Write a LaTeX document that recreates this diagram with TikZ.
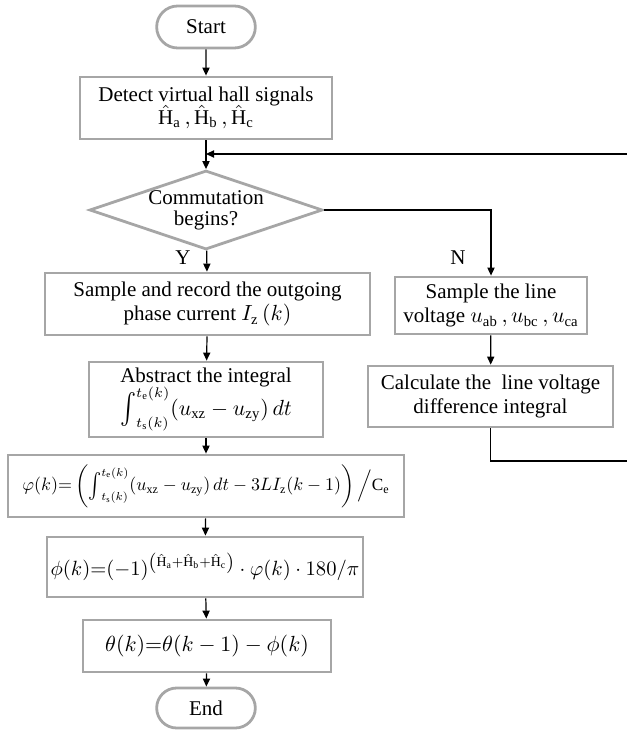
\documentclass[tikz,border=0pt]{standalone}
\usepackage{fontspec}
\setmainfont{Liberation Serif}
\usepackage{amsmath}
\usepackage{graphicx}
\usetikzlibrary{arrows.meta, positioning, shapes.geometric, shapes.misc}
\definecolor{boxgray}{RGB}{166,166,166}
\newcommand{\tallint}{\mathop{\vcenter{\hbox{\scalebox{1.1}[1.4]{$\int$}}}}\nolimits}

\begin{document}
\begin{tikzpicture}[
    x=0.5pt, y=-0.5pt,
    >={Triangle[length=4pt,width=3.6pt]},
    every node/.style={font=\fontsize{10.5}{12.4}\selectfont},
    flow/.style={draw=boxgray, line width=1.4pt, inner sep=1pt,
                 align=center},
    terminal/.style={draw=boxgray, line width=1.4pt, rounded rectangle,
                     minimum width=56pt, minimum height=21pt},
    decision/.style={draw=boxgray, line width=1.4pt, diamond, inner sep=0pt,
                     minimum width=116.5pt, minimum height=39.5pt},
    link/.style={->, line width=0.6pt}
  ]
  \useasboundingbox (0,0) rectangle (626,732);

  % Main column
  \node[terminal] (start) at (206,27) {Start};
  \node[flow, minimum width=126pt, minimum height=31pt] (detect) at (206,108)
    {Detect virtual hall signals\\[-1pt]
     $\hat{\mathrm{H}}_{\mathrm{a}}\,,\hat{\mathrm{H}}_{\mathrm{b}}\,,\hat{\mathrm{H}}_{\mathrm{c}}$};
  \node[decision] (decide) at (206,210) {};
  \node[align=center] (decideText) at (206,210) {Commutation\\[-2pt]begins?};
  \node[flow, minimum width=162.5pt, minimum height=31pt] (sample) at (207.5,304)
    {Sample and record the outgoing\\phase current $I_{\mathrm{z}}\left(k\right)$};
  \node[flow, minimum width=117pt, minimum height=37.5pt] (integ) at (206,399.5)
    {Abstract the integral\\[-1pt]
     $\tallint_{t_{\mathrm{s}}(k)}^{t_{\mathrm{e}}(k)}\!\left(u_{\mathrm{xz}}-u_{\mathrm{zy}}\right)dt$};
  \node[flow, minimum width=198pt, minimum height=31pt] (phi) at (206,486)
    {\scalebox{0.82}{$\varphi(k){=}\left(\tallint_{t_{\mathrm{s}}(k)}^{t_{\mathrm{e}}(k)}\!\left(u_{\mathrm{xz}}-u_{\mathrm{zy}}\right)dt-3LI_{\mathrm{z}}(k-1)\right)\Big/\mathrm{C}_{\mathrm{e}}$}};
  \node[flow, minimum width=158pt, minimum height=30pt] (phase) at (205,567)
    {\scalebox{0.94}{$\phi(k){=}(-1)^{\left(\hat{\mathrm{H}}_{\mathrm{a}}+\hat{\mathrm{H}}_{\mathrm{b}}+\hat{\mathrm{H}}_{\mathrm{c}}\right)}\cdot\varphi(k)\cdot180/\pi$}};
  \node[flow, minimum width=124pt, minimum height=26pt] (theta) at (207,646)
    {$\theta(k){=}\theta(k-1)-\phi(k)$};
  \node[terminal, minimum height=20pt] (stop) at (206,708) {End};

  % Right branch
  \node[flow, minimum width=96pt, minimum height=28.5pt] (lineV) at (491,305.5)
    {Sample the line\\voltage $u_{\mathrm{ab}}\,,u_{\mathrm{bc}}\,,u_{\mathrm{ca}}$};
  \node[flow, minimum width=122.5pt, minimum height=30.5pt] (diffI) at (490.5,396.5)
    {Calculate the \ line voltage\\difference integral};

  % Labels
  \node (yes) at (183,258) {Y};
  \node (no) at (458,258) {N};

  % Loop corners
  \coordinate (loopA) at (630,461);
  \coordinate (loopB) at (630,154);
  \coordinate (join) at (206,154);

  % Connectors
  \draw[link] (start) -- (detect);
  \draw[link] (detect) -- (decide);
  \draw[link] (decide) -- (sample);
  \draw[link] (sample) -- (integ);
  \draw[link] (integ) -- (phi);
  \draw[link] (phi) -- (phase);
  \draw[link] (phase) -- (theta);
  \draw[link] (theta) -- (stop);
  \draw[link] (decide.east) -| (lineV.north);
  \draw[link] (lineV) -- (diffI);
  \draw[link] (diffI.south) |- (loopA) -- (loopB) -- (join);
\end{tikzpicture}
\end{document}
